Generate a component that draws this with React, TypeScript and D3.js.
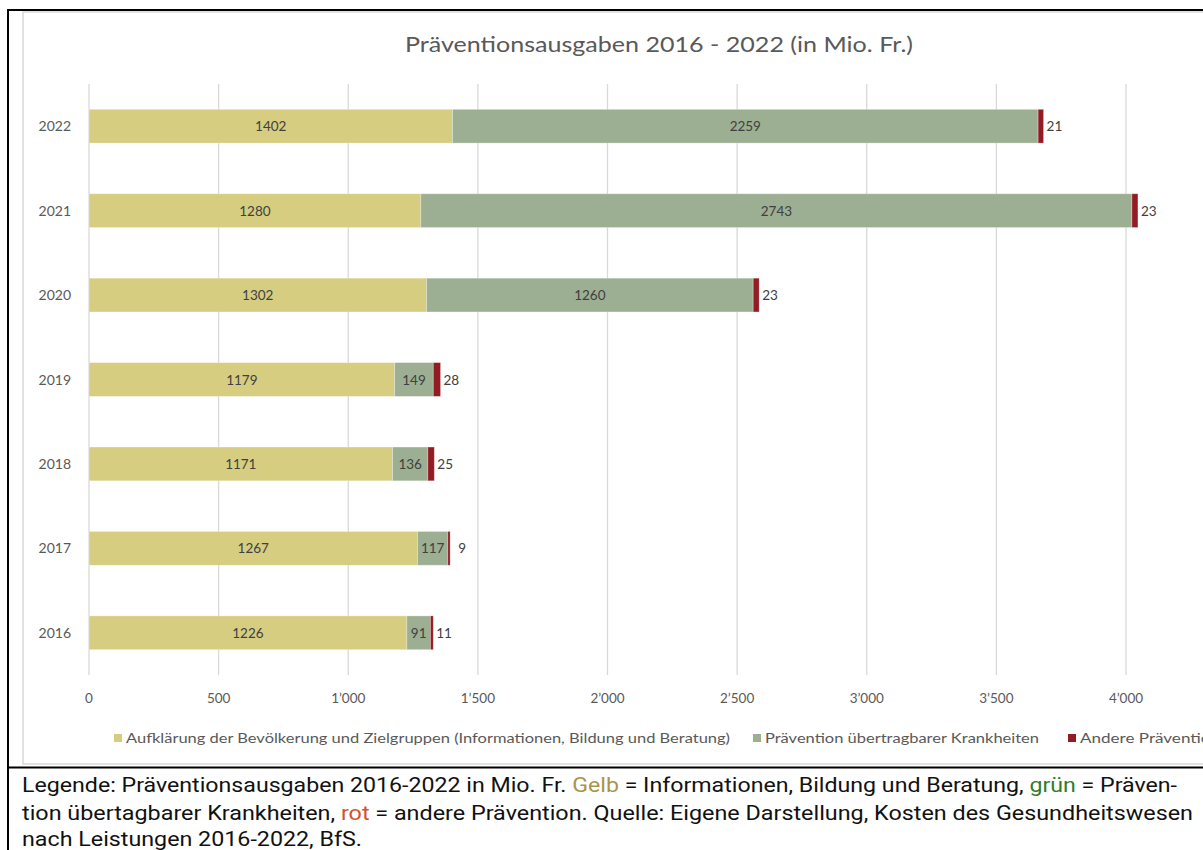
import React from "react";
import * as d3 from "d3";

const W = 1203;
const H = 850;

const years = ["2022", "2021", "2020", "2019", "2018", "2017", "2016"];
const aufklaerung = [1402, 1280, 1302, 1179, 1171, 1267, 1226];
const uebertragbar = [2259, 2743, 1260, 149, 136, 117, 91];
const andere = [21, 23, 23, 28, 25, 9, 11];
const xTicks = [0, 500, 1000, 1500, 2000, 2500, 3000, 3500, 4000];

const seriesNames = [
  "Aufklärung der Bevölkerung und Zielgruppen (Informationen, Bildung und Beratung)",
  "Prävention übertragbarer Krankheiten",
  "Andere Prävention",
];
const colors = ["#d6cd80", "#9caf92", "#931b24"];

const chFont = "Lato, 'Open Sans', sans-serif";
const capFont = "'Liberation Sans Narrow', Roboto, 'Noto Sans', sans-serif";

const locale = d3.formatLocale({ decimal: ".", thousands: "’", grouping: [3], currency: ["", ""] });
const fmt = locale.format(",");

const App = () => {
  const x = d3.scaleLinear().domain([0, 4500]).range([89, 89 + 4500 * 0.25925]);
  const y = d3.scaleBand().domain(years).range([84, 675]).paddingInner(0.6).paddingOuter(0.3);

  const stackData = years.map((yr, i) => ({ yr, a: aufklaerung[i], b: uebertragbar[i], c: andere[i] }));
  const stack = d3.stack<any>().keys(["a", "b", "c"])(stackData);

  const legendX = [114, 753, 1068];
  const legendLen = [604, 274, 140];

  return (
    <svg width={W} height={H} style={{ position: "absolute", left: 0, top: 0, display: "block" }}>
      <rect x={0} y={0} width={W} height={H} fill="#fff" />
      {/* chart frame */}
      <rect x={23} y={12} width={1300} height={752} fill="none" stroke="#d9d9d9" strokeWidth={1.5} />
      {/* title */}
      <text x={659} y={52} textAnchor="middle" fontFamily={chFont} fontSize={21} fill="#595959"
        textLength={508} lengthAdjust="spacingAndGlyphs">
        Präventionsausgaben 2016 - 2022 (in Mio. Fr.)
      </text>
      {/* gridlines */}
      {xTicks.map((t) => (
        <line key={t} x1={x(t)} x2={x(t)} y1={84} y2={675} stroke="#d9d9d9" strokeWidth={1.3} />
      ))}
      {xTicks.map((t) => (
        <text key={"l" + t} x={x(t)} y={703} textAnchor="middle" fontFamily={chFont} fontSize={13.5} fill="#595959">
          {fmt(t)}
        </text>
      ))}
      {years.map((yr) => (
        <text key={yr} x={71} y={(y(yr) as number) + y.bandwidth() / 2 + 5} textAnchor="end"
          fontFamily={chFont} fontSize={14} fill="#595959">
          {yr}
        </text>
      ))}
      {stack.map((s, si) => (
        <g key={si}>
          {s.map((d, di) => {
            const yr = years[di];
            const x0 = x(d[0]);
            const x1 = x(d[1]);
            const yy = y(yr) as number;
            const cy = yy + y.bandwidth() / 2 + 5;
            const v = d[1] - d[0];
            return (
              <g key={yr}>
                <rect x={x0} y={yy} width={x1 - x0} height={y.bandwidth()} fill={colors[si]}
                  stroke="#fff" strokeOpacity={0.35} strokeWidth={0.8} />
                {si < 2 ? (
                  <text x={(x0 + x1) / 2} y={cy} textAnchor="middle" fontFamily={chFont} fontSize={13.5} fill="#404040">
                    {v}
                  </text>
                ) : (
                  <text x={x1 + (v < 10 ? 8 : 3)} y={cy} textAnchor="start" fontFamily={chFont} fontSize={13.5} fill="#404040">
                    {v}
                  </text>
                )}
              </g>
            );
          })}
        </g>
      ))}
      {/* legend */}
      {seriesNames.map((n, i) => (
        <g key={n}>
          <rect x={legendX[i]} y={734} width={8} height={8} fill={colors[i]} />
          <text x={legendX[i] + 12} y={743} fontFamily={chFont} fontSize={13.5} fill="#595959"
            textLength={legendLen[i]} lengthAdjust="spacingAndGlyphs">
            {n}
          </text>
        </g>
      ))}
      {/* outer border */}
      <line x1={8} x2={W} y1={10} y2={10} stroke="#000" strokeWidth={2} />
      <line x1={8} x2={8} y1={9} y2={H} stroke="#000" strokeWidth={2} />
      <line x1={8} x2={W} y1={767.5} y2={767.5} stroke="#000" strokeWidth={2} />
      {/* caption */}
      <g fontFamily={capFont} fontSize={20} fill="#111">
        <text x={22} y={792} textLength={1155} lengthAdjust="spacingAndGlyphs">
          Legende: Präventionsausgaben 2016-2022 in Mio. Fr. <tspan fill="#a8954a">Gelb</tspan> = Informationen, Bildung und Beratung, <tspan fill="#2f7d2a">grün</tspan> = Präven-
        </text>
        <text x={22} y={820} textLength={1171} lengthAdjust="spacingAndGlyphs">
          tion übertagbarer Krankheiten, <tspan fill="#d5512b">rot</tspan> = andere Prävention. Quelle: Eigene Darstellung, Kosten des Gesundheitswesen
        </text>
        <text x={22} y={846} textLength={340} lengthAdjust="spacingAndGlyphs">
          nach Leistungen 2016-2022, BfS.
        </text>
      </g>
    </svg>
  );
};

export default App;
